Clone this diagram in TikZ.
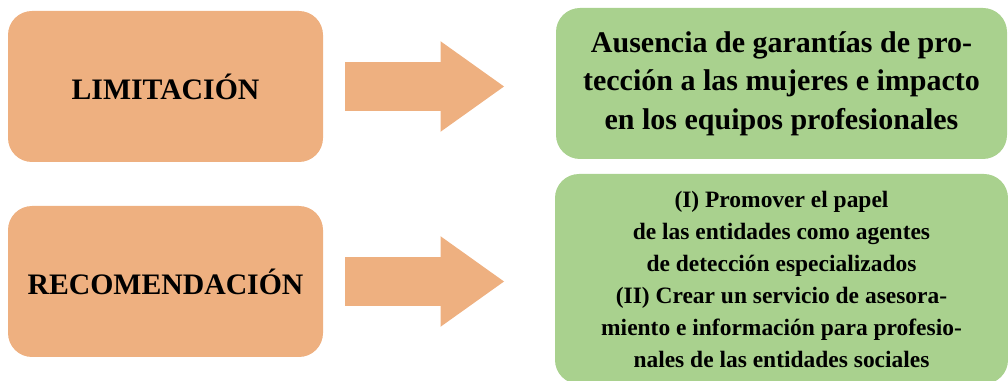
\documentclass[tikz,border=0pt]{standalone}
\usepackage{fontspec}
\setmainfont{Liberation Serif}
\usetikzlibrary{shapes.arrows}
\definecolor{peach}{RGB}{238,176,128}
\definecolor{sage}{RGB}{169,209,142}

\begin{document}
\begin{tikzpicture}[x=0.75pt,y=-0.75pt]
\clip (0,0) rectangle (1008,381);
  \begin{scope}[every node/.style={fill=peach,rounded corners=18pt,inner sep=0pt,
      minimum width=236.25pt,minimum height=113.25pt,
      font=\fontsize{22.3}{27}\selectfont\bfseries}]
    \node at (165.5,86.5) (lim) {LIMITACIÓN};
    \node at (165.5,281.5) (rec) {RECOMENDACIÓN};
  \end{scope}

  \begin{scope}[every node/.style={single arrow,fill=peach,inner xsep=0pt,inner ysep=18pt,
      minimum height=119.25pt,single arrow head extend=15.75pt,single arrow tip angle=71}]
    \node at (407.5,86.5) (arr1) {};
    \node at (407.5,281.5) (arr2) {};
  \end{scope}

  \begin{scope}[every node/.style={fill=sage,rounded corners=18pt,inner sep=0pt,align=center}]
    \node [minimum width=338.25pt,minimum height=113.25pt,
      font=\fontsize{22.5}{29}\selectfont\bfseries] at (781.5,83.5) (aus)
      {Ausencia de garantías de pro-\\tecci\'on a las mujeres e impacto\\en los equipos profesionales};
    \node [minimum width=339.75pt,minimum height=157.5pt,
      font=\fontsize{17.6}{24}\selectfont\bfseries] at (781.5,279) (prom)
      {(I) Promover el papel\\de las entidades como agentes\\de detección especializados\\
       (II) Crear un servicio de asesora-\\miento e información para profesio-\\nales de las entidades sociales};
  \end{scope}
\end{tikzpicture}
\end{document}
